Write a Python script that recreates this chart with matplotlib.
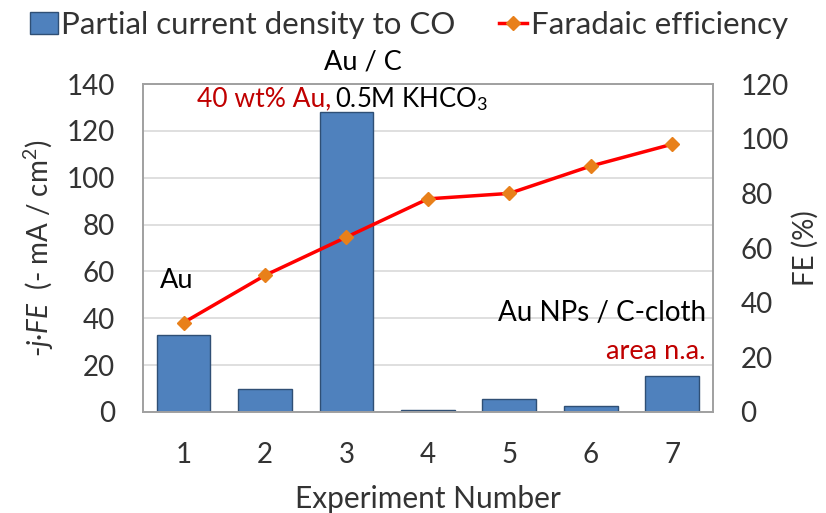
import matplotlib
matplotlib.use("Agg")
import matplotlib.pyplot as plt

plt.rcParams['font.family'] = ['Lato', 'DejaVu Sans']
plt.rcParams['mathtext.fontset'] = 'custom'
plt.rcParams['mathtext.rm'] = 'Lato'
plt.rcParams['mathtext.it'] = 'Lato:italic'

experiments = [1, 2, 3, 4, 5, 6, 7]
current_density = [33, 10, 128, 0.8, 5.5, 2.5, 15.5]
faradaic_eff = [32.7, 50, 64, 78, 80, 90, 98]

fig = plt.figure(figsize=(8.26, 5.13), dpi=100)
ax = fig.add_axes([0.173, 0.197, 0.690, 0.639])
ax2 = ax.twinx()

bars = ax.bar(experiments, current_density, width=0.66, color='#4F81BD',
              edgecolor='#2F4F75', linewidth=1.0, zorder=2,
              label='Partial current density to CO')
line, = ax2.plot(experiments, faradaic_eff, color='#FF0000', linewidth=2.5,
                 marker='D', markersize=7, markerfacecolor='#E8801A',
                 markeredgecolor='#E8801A', zorder=3, label='Faradaic efficiency')

ax.set_xlim(0.5, 7.5)
ax.set_ylim(0, 140)
ax2.set_ylim(0, 120)
ax.set_yticks(range(0, 141, 20))
ax2.set_yticks(range(0, 121, 20))
ax.set_xticks(experiments)
ax.grid(axis='y', color='#D9D9D9', linewidth=1.2, zorder=0)
ax.set_axisbelow(True)

for a in (ax, ax2):
    a.tick_params(axis='y', length=0, labelsize=20, colors='#333333', pad=20)
    for s in a.spines.values():
        s.set_color('#A0A0A0')
        s.set_linewidth(1.2)
ax.tick_params(axis='x', length=0, labelsize=20, colors='#333333', pad=22)

ax.set_xlabel('Experiment Number', fontsize=21.5, color='#333333', labelpad=12)
ax.set_ylabel('-$j$·$FE$  (- mA / cm$^2$)', fontsize=20, color='#333333', labelpad=8)
ax2.set_ylabel('FE (%)', fontsize=20, color='#333333', labelpad=2)

tr = ax.transAxes
ax.text(0.386, 1.067, 'Au / C', transform=tr, ha='center', va='center', fontsize=19.5)
ax.text(0.331, 0.955, '40 wt% Au,', transform=tr, ha='right', va='center',
        fontsize=19, color='#C00000')
ax.text(0.337, 0.955, '0.5M KHCO$_3$', transform=tr, ha='left', va='center',
        fontsize=18.5, color='black')
ax.text(0.03, 0.40, 'Au', transform=tr, ha='left', va='center', fontsize=19.5)
ax.text(0.988, 0.302, 'Au NPs / C-cloth', transform=tr, ha='right', va='center', fontsize=20)
ax.text(0.988, 0.183, 'area n.a.', transform=tr, ha='right', va='center',
        fontsize=19.5, color='#C00000')

fig.legend(handles=[bars, line], loc='center', bbox_to_anchor=(0.495, 0.952),
           ncol=2, frameon=False, fontsize=22.5, handlelength=0.9,
           handletextpad=0.1, columnspacing=1.4, labelcolor='#333333')

fig.savefig('out.png', dpi=100)
